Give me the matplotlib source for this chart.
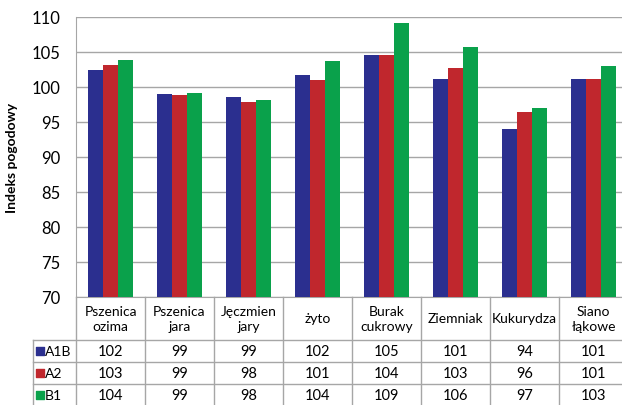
import matplotlib.pyplot as plt
import numpy as np

plt.rcParams['font.family'] = ['Lato', 'DejaVu Sans']

categories = ['Pszenica\nozima', 'Pszenica\njara', 'Jęczmien\njary', 'żyto',
              'Burak\ncukrowy', 'Ziemniak', 'Kukurydza', 'Siano\nłąkowe']
series = ['A1B', 'A2', 'B1']
a1b = [102.4, 99.0, 98.6, 101.7, 104.6, 101.2, 94.0, 101.1]
a2 = [103.1, 98.8, 97.8, 101.0, 104.5, 102.7, 96.4, 101.1]
b1 = [103.9, 99.1, 98.1, 103.7, 109.1, 105.7, 97.0, 103.0]
# rounded values printed in the table
tab_a1b = [102, 99, 99, 102, 105, 101, 94, 101]
tab_a2 = [103, 99, 98, 101, 104, 103, 96, 101]
tab_b1 = [104, 99, 98, 104, 109, 106, 97, 103]
colors = ['#2b2f8f', '#c0272d', '#0aa14b']

W, H = 622, 406
fig = plt.figure(figsize=(W / 100, H / 100), dpi=100)

x0, x1 = 76, 628     # px of plot area left/right
ytop, ybot = 18, 298
ax = fig.add_axes([x0 / W, 1 - ybot / H, (x1 - x0) / W, (ybot - ytop) / H])

x = np.arange(len(categories))
bw = 0.22
for i, (vals, c) in enumerate(zip([a1b, a2, b1], colors)):
    ax.bar(x + (i - 1) * bw, np.array(vals) - 70, bw, bottom=70, color=c, zorder=3)

ax.set_xlim(-0.5, len(categories) - 0.5)
ax.set_ylim(70, 110)
ax.set_yticks(range(70, 111, 5))
ax.set_xticks([])
ax.yaxis.grid(True, color='#a6a6a6', lw=1)
ax.tick_params(axis='y', length=0, pad=11, labelsize=12)
for s in ['top', 'right']:
    ax.spines[s].set_visible(False)
ax.spines['left'].set_color('#a6a6a6')
ax.spines['bottom'].set_color('#a6a6a6')
ax.set_ylabel('Indeks pogodowy', fontsize=10, fontweight='bold', labelpad=10)

# data table below the plot, in pixel units vertically
tax = fig.add_axes([x0 / W, 0, (x1 - x0) / W, (H - ybot) / H])
tax.set_xlim(-0.5, len(categories) - 0.5)
tax.set_ylim(H, ybot)
tax.axis('off')
unit = (x1 - x0) / len(categories)   # px per category
lx = -0.5 - (x0 - 33) / unit         # legend column left edge
rows = [341, 363, 385, 407]
lc = '#a6a6a6'
for k in range(len(categories) + 1):
    tax.plot([k - 0.5, k - 0.5], [ybot, H], color=lc, lw=1, clip_on=False)
tax.plot([lx, lx], [rows[0], H], color=lc, lw=1, clip_on=False)
for r in rows[:-1]:
    tax.plot([lx, len(categories) - 0.5], [r, r], color=lc, lw=1, clip_on=False)

for k, cat in enumerate(categories):
    tax.text(k, (ybot + rows[0]) / 2, cat, ha='center', va='center',
             fontsize=10, linespacing=1.25)
for j, (name, vals, c) in enumerate(zip(series, [tab_a1b, tab_a2, tab_b1], colors)):
    ym = (rows[j] + rows[j + 1]) / 2
    tax.scatter([lx + 0.1], [ym], marker='s', s=26, color=c, clip_on=False)
    tax.text(lx + 0.17, ym, name, ha='left', va='center', fontsize=10)
    for k, v in enumerate(vals):
        tax.text(k, ym, str(v), ha='center', va='center', fontsize=10.5)

fig.savefig('out.png', dpi=100)
